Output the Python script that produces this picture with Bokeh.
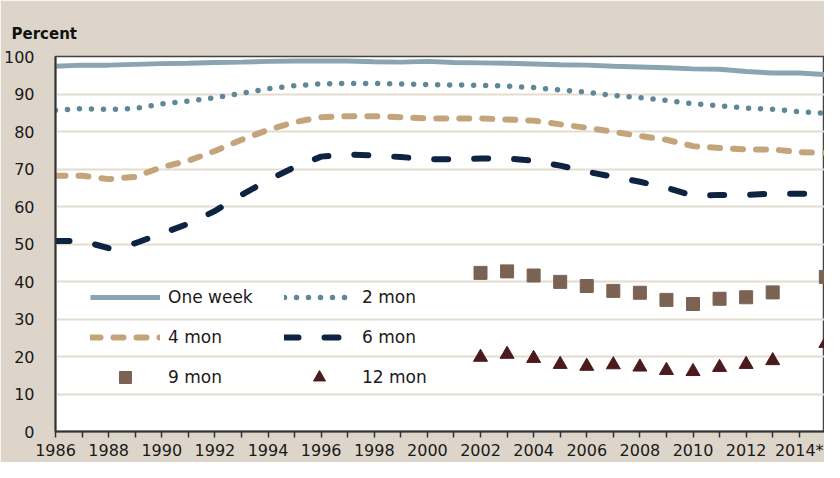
from bokeh.plotting import figure
from bokeh.models import Range1d, FixedTicker, Legend, LegendItem
from bokeh.embed import file_html
from bokeh.resources import INLINE

years = list(range(1986, 2016))
one_week = [97.4, 97.7, 97.7, 97.9, 98.1, 98.2, 98.4, 98.5, 98.7, 98.8,
            98.8, 98.8, 98.6, 98.5, 98.7, 98.4, 98.3, 98.2, 98.0, 97.8,
            97.7, 97.4, 97.2, 97.0, 96.7, 96.6, 96.0, 95.6, 95.6, 95.2]
two_mon = [85.7, 86.1, 85.9, 86.1, 87.4, 88.1, 89.0, 90.2, 91.4, 92.2,
           92.7, 92.8, 92.8, 92.7, 92.5, 92.4, 92.3, 92.1, 91.7, 91.1,
           90.5, 89.6, 89.0, 88.3, 87.4, 86.9, 86.2, 85.9, 85.3, 84.8]
four_mon = [68.2, 68.2, 67.3, 67.9, 70.5, 72.2, 74.8, 77.8, 80.4, 82.5,
            83.8, 84.1, 84.1, 83.8, 83.5, 83.5, 83.5, 83.2, 82.9, 81.9,
            81.0, 79.9, 78.8, 77.8, 76.1, 75.6, 75.2, 75.2, 74.5, 74.3]
six_mon = [50.8, 50.8, 48.9, 50.2, 52.8, 55.4, 58.8, 63.1, 67.0, 70.5,
           73.3, 73.9, 73.6, 73.2, 72.6, 72.6, 72.8, 72.8, 72.2, 70.9,
           69.3, 67.9, 66.6, 65.0, 62.9, 63.1, 63.1, 63.4, 63.4, 63.4]
marker_years = [2002, 2003, 2004, 2005, 2006, 2007, 2008, 2009, 2010, 2011, 2012, 2013, 2015]
nine_mon = [42.3, 42.7, 41.6, 39.9, 38.8, 37.5, 37.0, 35.1, 34.0, 35.4, 35.8, 37.1, 41.2]
twelve_mon = [19.8, 20.6, 19.5, 17.9, 17.4, 17.8, 17.2, 16.3, 16.0, 17.1, 17.9, 18.9, 23.5]

tick_years = list(range(1986, 2016))
tick_labels = {y: ("2014*" if y == 2014 else (str(y) if y % 2 == 0 else "")) for y in tick_years}
y_ticks = list(range(0, 101, 10))

FONT = "DejaVu Sans"
BG = "#ddd5c9"

p = figure(width=824, height=462, output_backend="svg", toolbar_location=None,
           x_range=Range1d(1986, 2014.95), y_range=Range1d(0, 100),
           min_border_left=51, min_border_right=0, min_border_top=56, min_border_bottom=26,
           background_fill_color="white", border_fill_color=BG)

p.title.text = "Percent"
p.title.text_font = FONT
p.title.text_font_size = "15px"
p.title.text_font_style = "bold"
p.title.text_color = "#111111"
p.title.align = "left"
p.title.offset = -44
p.title.standoff = 28

r1 = p.line(years, one_week, line_color="#8aa4b1", line_width=5)
r2 = p.line(years, two_mon, line_color="#5e8799", line_width=5.5, line_dash="0 12", line_cap="round")
r3 = p.line(years, four_mon, line_color="#c4a57b", line_width=6, line_dash="10 13", line_cap="round")
r4 = p.line(years, six_mon, line_color="#0c2341", line_width=6, line_dash="14 26", line_cap="round")
r5 = p.scatter(marker_years, nine_mon, marker="square", size=13, color="#7b6353")
r6 = p.scatter(marker_years, twelve_mon, marker="triangle", size=14, color="#4b1a1d")

legend = Legend(items=[
    LegendItem(label="One week", renderers=[r1]),
    LegendItem(label="2 mon", renderers=[r2]),
    LegendItem(label="4 mon", renderers=[r3]),
    LegendItem(label="6 mon", renderers=[r4]),
    LegendItem(label="9 mon", renderers=[r5]),
    LegendItem(label="12 mon", renderers=[r6]),
], location=(35, 39), orientation="horizontal", ncols=2)
legend.border_line_alpha = 0
legend.background_fill_alpha = 0
legend.padding = 0
legend.margin = 0
legend.spacing = 10
legend.glyph_width = 70
legend.glyph_height = 30
legend.label_standoff = 8
legend.label_width = 106
legend.label_text_font = FONT
legend.label_text_font_size = "17px"
legend.label_text_color = "#1a1a1a"
p.add_layout(legend)

p.xgrid.visible = False
p.ygrid.grid_line_color = "#e4dccf"
p.ygrid.grid_line_width = 2
p.ygrid.ticker = FixedTicker(ticks=y_ticks)

p.outline_line_color = "#444444"
p.outline_line_width = 1.5

p.xaxis.ticker = FixedTicker(ticks=tick_years)
p.xaxis.major_label_overrides = tick_labels
p.xaxis.minor_tick_line_color = None
p.xaxis.major_tick_out = 6
p.xaxis.major_tick_in = 0
p.xaxis.major_tick_line_color = "#333333"
p.xaxis.major_tick_line_width = 1.5
p.xaxis.axis_line_color = "#333333"
p.xaxis.axis_line_width = 2
p.xaxis.major_label_standoff = 3
p.xaxis.major_label_text_font = FONT
p.xaxis.major_label_text_font_size = "16px"
p.xaxis.major_label_text_color = "#1a1a1a"

p.yaxis.ticker = FixedTicker(ticks=y_ticks)
p.yaxis.major_tick_line_color = None
p.yaxis.minor_tick_line_color = None
p.yaxis.axis_line_color = "#333333"
p.yaxis.axis_line_width = 2
p.yaxis.major_label_standoff = 15
p.yaxis.major_label_text_font = FONT
p.yaxis.major_label_text_font_size = "16px"
p.yaxis.major_label_text_color = "#1a1a1a"

open("out.html", "w").write(file_html(p, INLINE))
